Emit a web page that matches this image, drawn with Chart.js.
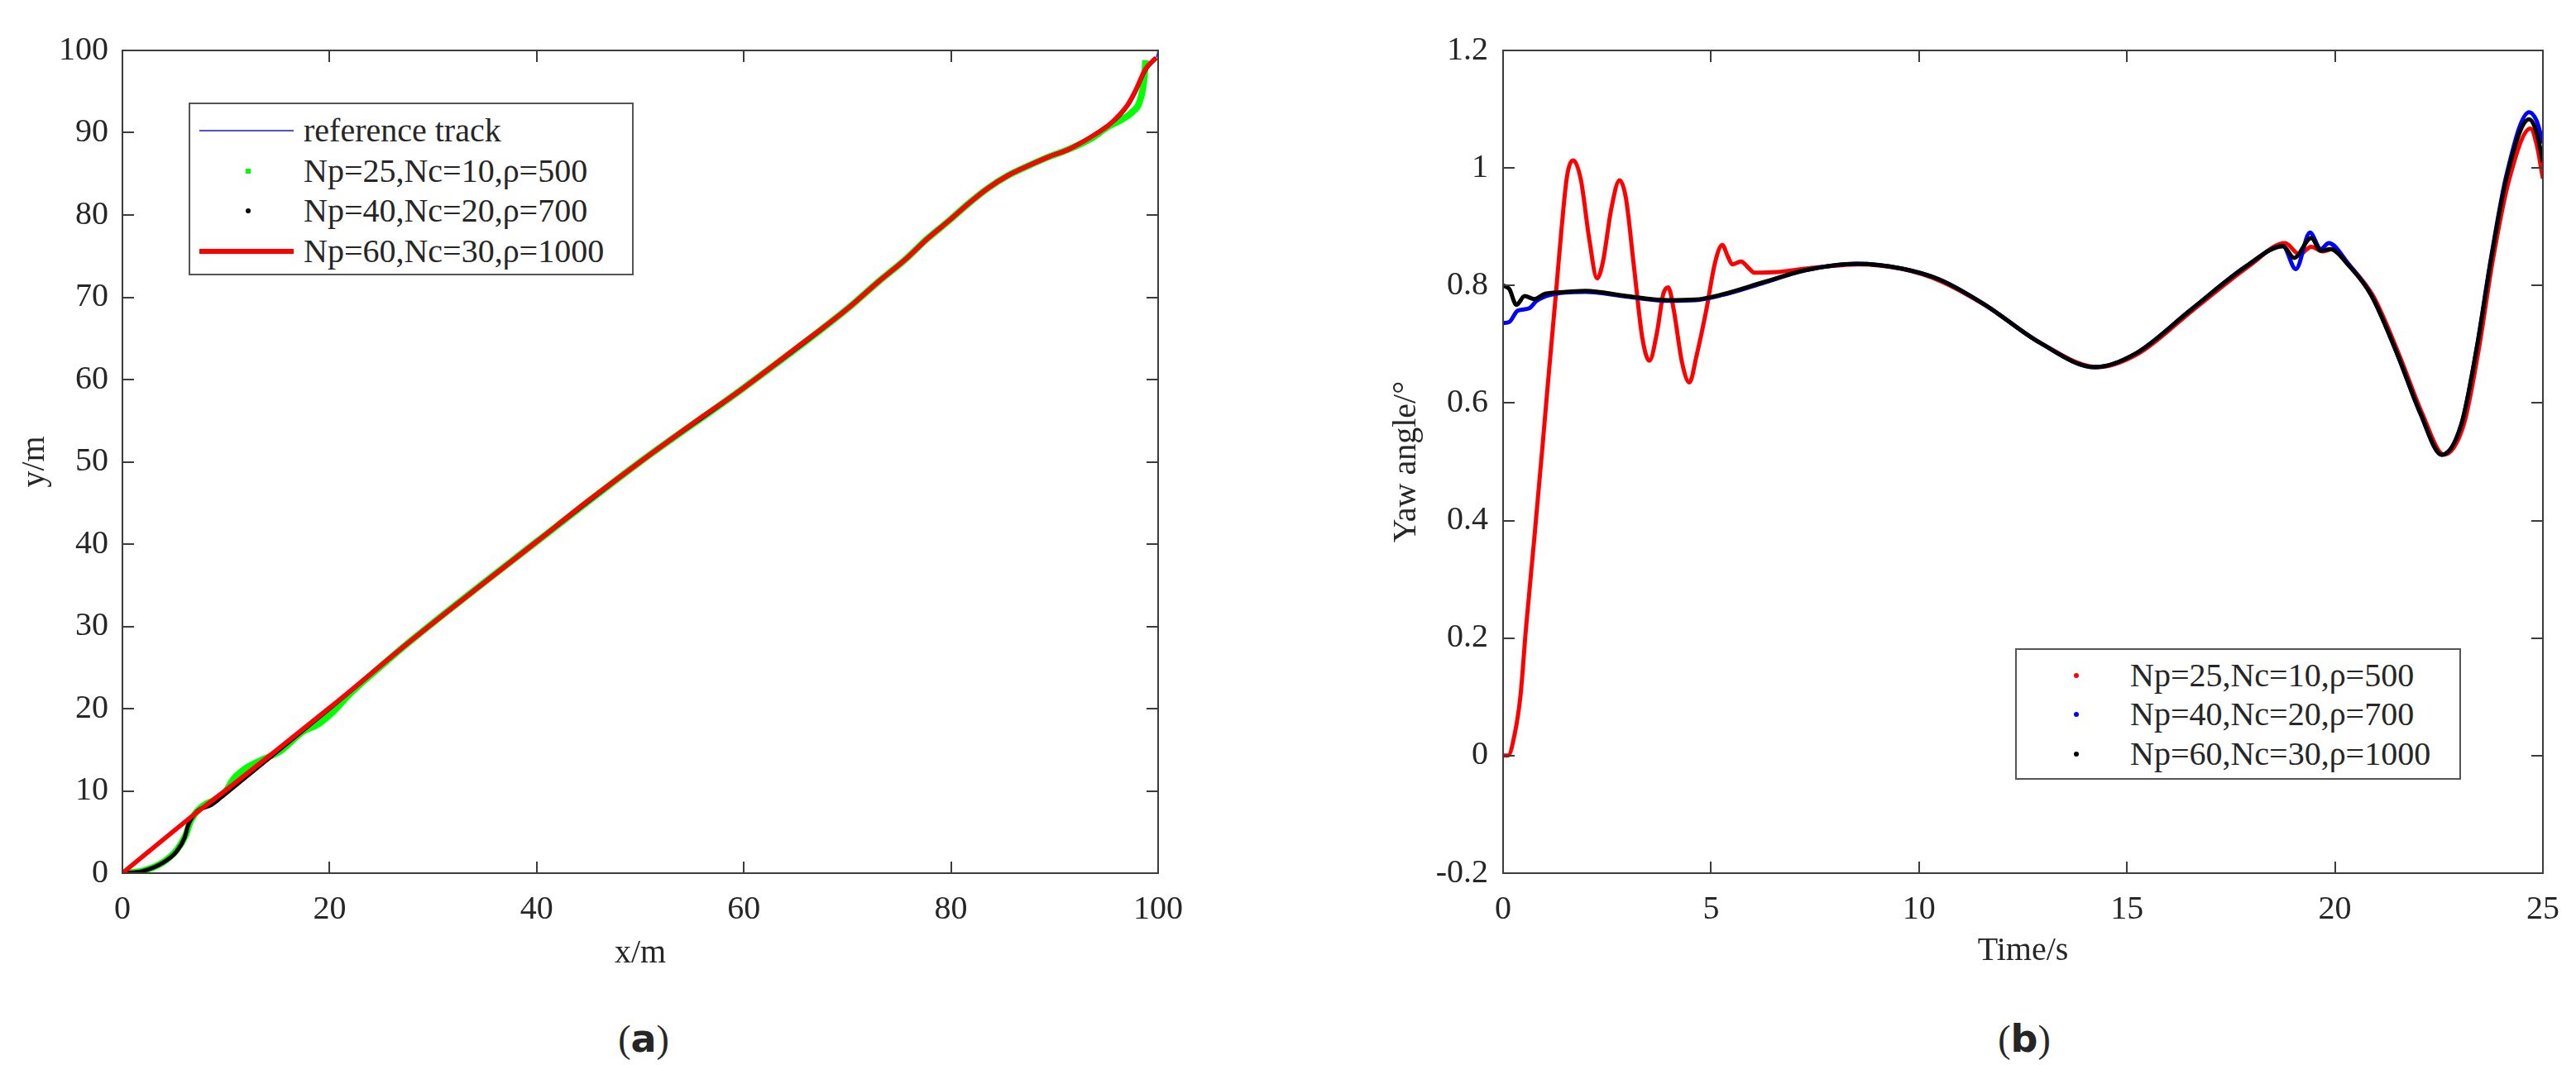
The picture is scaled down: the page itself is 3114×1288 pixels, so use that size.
<!DOCTYPE html>
<html>
<head>
<meta charset="utf-8">
<script src="https://cdn.jsdelivr.net/npm/chart.js@4.4.1/dist/chart.umd.min.js"></script>
<style>
  body { margin: 0; background: #fff; width: 3114px; height: 1288px; position: relative; overflow: hidden;
         font-family: "Liberation Serif", "DejaVu Serif", serif; color: #262626; }
  canvas { position: absolute; top: 0; }
  .legend { position: absolute; border: 2px solid #555; background: #fff; font-size: 40px; }
  .row { position: absolute; left: 0; white-space: nowrap; line-height: 48px; height: 48px; }
  .row span { position: absolute; }
  .swatch { position: absolute; top: 50%; }
  .panel { position: absolute; font-size: 46px; transform: translate(-50%, -50%); }
  .panel b { font-family: "DejaVu Sans", sans-serif; }
</style>
</head>
<body>
<canvas id="track" width="1450" height="1200" style="left:0"></canvas>
<canvas id="yaw" width="1514" height="1200" style="left:1600px"></canvas>

<div class="legend" style="left:228px; top:124px; width:534px; height:205px;">
  <div class="row" style="top:8px"><div class="swatch" style="left:11px; width:114px; height:2px; margin-top:-1px; background:#4d4dff"></div><span style="left:137px">reference track</span></div>
  <div class="row" style="top:57px"><div class="swatch" style="left:67px; width:6px; height:6px; margin-top:-3px; background:#00ff00"></div><span style="left:137px">Np=25,Nc=10,ρ=500</span></div>
  <div class="row" style="top:105px"><div class="swatch" style="left:67px; width:6px; height:6px; margin-top:-3px; border-radius:3px; background:#000"></div><span style="left:137px">Np=40,Nc=20,ρ=700</span></div>
  <div class="row" style="top:154px"><div class="swatch" style="left:11px; width:114px; height:6px; margin-top:-3px; background:#ff0000"></div><span style="left:137px">Np=60,Nc=30,ρ=1000</span></div>
</div>

<div class="legend" style="left:2436px; top:784px; width:535px; height:155px;">
  <div class="row" style="top:7px"><div class="swatch" style="left:69px; width:6px; height:6px; margin-top:-3px; border-radius:3px; background:#ff0000"></div><span style="left:137px">Np=25,Nc=10,ρ=500</span></div>
  <div class="row" style="top:54px"><div class="swatch" style="left:69px; width:6px; height:6px; margin-top:-3px; border-radius:3px; background:#0000ff"></div><span style="left:137px">Np=40,Nc=20,ρ=700</span></div>
  <div class="row" style="top:102px"><div class="swatch" style="left:69px; width:6px; height:6px; margin-top:-3px; border-radius:3px; background:#000"></div><span style="left:137px">Np=60,Nc=30,ρ=1000</span></div>
</div>

<div class="panel" style="left:778px; top:1256px">(<b>a</b>)</div>
<div class="panel" style="left:2447px; top:1256px">(<b>b</b>)</div>

<script>
// (a) trajectory, x/m vs y/m
const trackXTicks = [0, 20, 40, 60, 80, 100];
const trackYTicks = [0, 10, 20, 30, 40, 50, 60, 70, 80, 90, 100];

const refX = [0, 10, 20, 28, 40, 45, 50, 55, 60, 65, 70, 73, 75.6, 77.7, 79.8, 81.7, 83.5, 85.5, 87.5, 89.5, 91.4, 93.8, 95.2, 96.2, 97.1, 97.8, 98.8, 99.8, 100];
const refY = [0, 10.1, 20.1, 28.4, 40.3, 45.3, 50.0, 54.6, 59.0, 63.8, 68.6, 71.9, 74.6, 77.1, 79.3, 81.4, 83.2, 84.8, 86.0, 87.1, 88.0, 89.7, 90.9, 92.1, 93.5, 95.1, 97.8, 99.1, 100];

const np25X = [0, 2, 4, 5.3, 6.1, 6.6, 7.5, 9, 10, 10.7, 12.1, 13.7, 15.2, 17.4, 18.9, 20.5, 21.8, 25, 28, 40, 50, 60, 70, 73, 75.6, 77.7, 79.8, 81.7, 83.5, 85.5, 87.5, 89.5, 91.4, 93.8, 95, 96.5, 97.5, 98.2, 98.6, 98.8];
const np25Y = [0, 0.3, 1.4, 2.9, 4.6, 6.4, 7.9, 9.0, 10.0, 11.4, 12.9, 13.9, 14.8, 17.2, 18.1, 19.8, 21.6, 25.2, 28.4, 40.3, 50.0, 59.0, 68.6, 71.9, 74.6, 77.1, 79.3, 81.4, 83.2, 84.8, 86.0, 87.1, 88.0, 89.5, 90.6, 91.6, 92.5, 93.7, 96.0, 98.8];

const np40X = [0, 2, 3.9, 5.2, 6.0, 6.4, 7.3, 8.6, 9.9, 20, 28, 40, 50, 60, 70, 73, 75.6, 77.7, 79.8, 81.7, 83.5, 85.5, 87.5, 89.5, 91.4, 93.8, 95.2, 96.2, 97.1, 97.8, 98.8, 99.8];
const np40Y = [0, 0.27, 1.27, 2.6, 4.3, 6.0, 7.6, 8.3, 9.6, 20.0, 28.4, 40.3, 50.0, 59.0, 68.6, 71.9, 74.6, 77.1, 79.3, 81.4, 83.2, 84.8, 86.0, 87.1, 88.0, 89.7, 90.9, 92.0, 93.4, 95.0, 97.7, 99.1];

const np60X = [0, 7.3, 10, 20, 28, 40, 45, 50, 55, 60, 65, 70, 73, 75.6, 77.7, 79.8, 81.7, 83.5, 85.5, 87.5, 89.5, 91.4, 93.8, 95.2, 96.2, 97.1, 97.8, 98.8, 99.8];
const np60Y = [0, 7.5, 10.1, 20.1, 28.4, 40.3, 45.3, 50.0, 54.6, 59.0, 63.8, 68.6, 71.9, 74.6, 77.1, 79.3, 81.4, 83.2, 84.8, 86.0, 87.1, 88.0, 89.7, 90.9, 92.1, 93.5, 95.1, 97.8, 99.1];

// (b) yaw angle vs time
const yawXTicks = [0, 5, 10, 15, 20, 25];
const yawYTicks = [-0.2, 0, 0.2, 0.4, 0.6, 0.8, 1, 1.2];

const yaw25T = [0, 0.12, 0.28, 0.42, 0.55, 0.75, 0.95, 1.08, 1.28, 1.41, 1.54, 1.69, 1.87, 2.07, 2.26, 2.4, 2.6, 2.8, 2.95, 3.15, 3.35, 3.52, 3.7, 3.85, 3.97, 4.1, 4.3, 4.48, 4.65, 4.88, 5.1, 5.27, 5.4, 5.51, 5.72, 5.9, 6.04, 6.6, 7.3, 8.55, 9.6, 10.5, 11.6, 12.95, 14.3, 15.25, 16.6, 17.95, 18.8, 19.15, 19.43, 19.7, 19.95, 20.38, 20.92, 21.55, 22.1, 22.62, 23.1, 23.45, 23.8, 24.18, 24.7, 24.85, 25];
const yaw25V = [0, 0, 0.037, 0.103, 0.216, 0.369, 0.528, 0.635, 0.794, 0.9, 0.987, 1.013, 0.98, 0.88, 0.812, 0.84, 0.93, 0.979, 0.95, 0.83, 0.71, 0.672, 0.72, 0.785, 0.797, 0.76, 0.67, 0.635, 0.68, 0.756, 0.84, 0.869, 0.85, 0.836, 0.841, 0.83, 0.822, 0.823, 0.829, 0.836, 0.828, 0.808, 0.766, 0.701, 0.661, 0.683, 0.759, 0.834, 0.872, 0.853, 0.866, 0.858, 0.862, 0.832, 0.782, 0.681, 0.582, 0.512, 0.564, 0.688, 0.845, 0.978, 1.067, 1.04, 0.982];

const yaw40T = [0, 0.15, 0.35, 0.62, 0.81, 1.14, 1.98, 2.97, 3.96, 4.62, 5.28, 6.28, 7.27, 8.5, 9.58, 10.5, 11.57, 12.92, 14.23, 15.18, 16.54, 17.89, 18.75, 19.06, 19.4, 19.66, 19.85, 20.33, 20.87, 21.5, 22.05, 22.57, 23.04, 23.4, 23.76, 24.13, 24.67, 24.85, 25];
const yaw40V = [0.736, 0.738, 0.757, 0.761, 0.774, 0.784, 0.789, 0.781, 0.774, 0.775, 0.784, 0.805, 0.826, 0.837, 0.829, 0.81, 0.768, 0.702, 0.661, 0.683, 0.759, 0.834, 0.867, 0.828, 0.89, 0.862, 0.872, 0.836, 0.784, 0.683, 0.583, 0.512, 0.564, 0.69, 0.85, 0.99, 1.095, 1.08, 1.042];

const yaw60T = [0, 0.15, 0.32, 0.52, 0.75, 1.01, 1.51, 1.98, 2.97, 3.96, 4.62, 5.28, 6.28, 7.27, 8.5, 9.58, 10.5, 11.57, 12.92, 14.23, 15.18, 16.54, 17.89, 18.75, 19.02, 19.43, 19.66, 19.89, 20.33, 20.87, 21.5, 22.05, 22.57, 23.04, 23.4, 23.76, 24.13, 24.67, 24.85, 25];
const yaw60V = [0.8, 0.794, 0.767, 0.782, 0.777, 0.786, 0.789, 0.791, 0.782, 0.775, 0.776, 0.785, 0.806, 0.826, 0.837, 0.829, 0.81, 0.768, 0.702, 0.661, 0.683, 0.759, 0.834, 0.867, 0.847, 0.881, 0.859, 0.862, 0.834, 0.784, 0.683, 0.583, 0.512, 0.564, 0.69, 0.847, 0.985, 1.083, 1.06, 1.01];

Chart.defaults.font.family = '"Liberation Serif", "DejaVu Serif", serif';
Chart.defaults.font.size = 40;
Chart.defaults.color = '#262626';

function pts(xs, ys) {
  return xs.map((v, i) => ({x: v, y: ys[i]}));
}

// MATLAB style box with inward ticks on all four sides
const boxTicks = {
  id: 'boxTicks',
  afterDraw(chart) {
    const {ctx, chartArea: a, scales: {x, y}} = chart;
    ctx.save();
    ctx.strokeStyle = '#3c3c3c';
    ctx.lineWidth = 2;
    ctx.strokeRect(a.left, a.top, a.right - a.left, a.bottom - a.top);
    ctx.beginPath();
    x.ticks.forEach(t => {
      const px = Math.round(x.getPixelForValue(t.value));
      ctx.moveTo(px, a.bottom); ctx.lineTo(px, a.bottom - 14);
      ctx.moveTo(px, a.top); ctx.lineTo(px, a.top + 14);
    });
    y.ticks.forEach(t => {
      const py = Math.round(y.getPixelForValue(t.value));
      ctx.moveTo(a.left, py); ctx.lineTo(a.left + 14, py);
      ctx.moveTo(a.right, py); ctx.lineTo(a.right - 14, py);
    });
    ctx.stroke();
    ctx.restore();
  }
};

function axis(min, max, tickList, title, size, titlePad, labelPad, horizontal) {
  return {
    type: 'linear',
    min: min,
    max: max,
    grid: {display: false, drawTicks: false},
    border: {display: false},
    ticks: {padding: labelPad, autoSkip: false, maxRotation: 0, callback: v => String(v)},
    afterBuildTicks: s => { s.ticks = tickList.map(v => ({value: v})); },
    afterFit: s => { if (horizontal) s.height = size; else s.width = size; },
    title: {display: true, text: title, padding: {top: titlePad, bottom: titlePad}, font: {size: 40}}
  };
}

function lineSet(label, xs, ys, color, width, order) {
  return {
    label: label,
    data: pts(xs, ys),
    borderColor: color,
    backgroundColor: color,
    borderWidth: width,
    pointRadius: 0,
    showLine: true,
    fill: false,
    cubicInterpolationMode: 'monotone',
    order: order
  };
}

new Chart(document.getElementById('track'), {
  type: 'scatter',
  data: {
    datasets: [
      lineSet('reference track', refX, refY, '#3333ff', 1.5, 3),
      lineSet('Np=25,Nc=10,ρ=500', np25X, np25Y, '#00ff00', 8, 2),
      lineSet('Np=40,Nc=20,ρ=700', np40X, np40Y, '#000000', 5, 1),
      lineSet('Np=60,Nc=30,ρ=1000', np60X, np60Y, '#ff0000', 5.5, 0)
    ]
  },
  options: {
    responsive: false,
    animation: false,
    devicePixelRatio: 1,
    layout: {padding: {top: 61, right: 42, bottom: 0, left: 0}},
    plugins: {legend: {display: false}, tooltip: {enabled: false}},
    scales: {
      x: axis(0, 100, trackXTicks, 'x/m', 144, 23, 20, true),
      y: axis(0, 100, trackYTicks, 'y/m', 148, 18, 17, false)
    }
  },
  plugins: [boxTicks]
});

new Chart(document.getElementById('yaw'), {
  type: 'scatter',
  data: {
    datasets: [
      lineSet('Np=25,Nc=10,ρ=500', yaw25T, yaw25V, '#ff0000', 5, 2),
      lineSet('Np=40,Nc=20,ρ=700', yaw40T, yaw40V, '#0000ff', 5, 1),
      lineSet('Np=60,Nc=30,ρ=1000', yaw60T, yaw60V, '#000000', 5, 0)
    ]
  },
  options: {
    responsive: false,
    animation: false,
    devicePixelRatio: 1,
    layout: {padding: {top: 61, right: 36, bottom: 0, left: 0}},
    plugins: {legend: {display: false}, tooltip: {enabled: false}},
    scales: {
      x: axis(0, 25, yawXTicks, 'Time/s', 144, 26, 20, true),
      y: axis(-0.2, 1.2, yawYTicks, 'Yaw angle/°', 217, 76, 18, false)
    }
  },
  plugins: [boxTicks]
});
</script>
</body>
</html>
